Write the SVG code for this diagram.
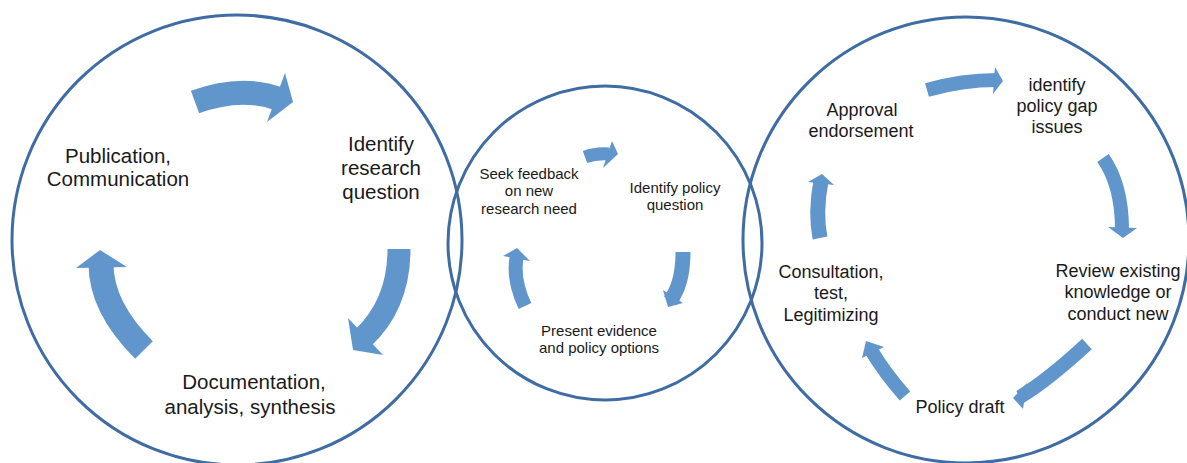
<svg xmlns="http://www.w3.org/2000/svg" width="1187" height="463" viewBox="0 0 1187 463">
<style>
  .ring { fill: none; stroke: #3f6ca3; stroke-width: 3; }
  .body { fill: none; stroke: #6196cc; }
  .head { fill: #6196cc; stroke: none; }
  text { font-family: "Liberation Sans", Arial, sans-serif; fill: #1a1a1a; text-anchor: middle; }
  .t20 { font-size: 20.5px; }
  .t15 { font-size: 15px; }
  .t17 { font-size: 18px; }
</style>
<rect width="1187" height="463" fill="#ffffff"/>

<g id="cycle-research">
  <circle class="ring" cx="237" cy="240" r="225"/>
</g>
<g id="cycle-bridge">
  <circle class="ring" cx="605" cy="243" r="157"/>
</g>
<g id="cycle-policy">
  <circle class="ring" cx="966" cy="240" r="223"/>
</g>

<g id="connectors">
  <!-- left circle -->
  <path class="body" stroke-width="24" d="M195,102 Q241.5,85 279,99"/>
  <polygon class="head" points="285,73 293,102 267,122"/>
  <path class="body" stroke-width="23" d="M399,249 Q399,304 363,338"/>
  <polygon class="head" points="348,318 353,350 383,355"/>
  <path class="body" stroke-width="25" d="M144,350 Q101,307 101,264"/>
  <polygon class="head" points="76,268 100,250 127,267"/>
  <!-- middle circle -->
  <path class="body" stroke-width="13" d="M585,157 Q596,153 609,154"/>
  <polygon class="head" points="612,141 618,154 603,168"/>
  <path class="body" stroke-width="15" d="M683,252 Q683,284 670,301"/>
  <polygon class="head" points="663,290 668,307 683,303"/>
  <path class="body" stroke-width="14" d="M525,306 Q512,279 517,255"/>
  <polygon class="head" points="503,256 517,248 530,261"/>
  <!-- right circle -->
  <path class="body" stroke-width="14" d="M927,90 Q962,80 997,80"/>
  <polygon class="head" points="995,67 1003,81 993,94"/>
  <path class="body" stroke-width="14" d="M1103,158 Q1122,185 1122,230"/>
  <polygon class="head" points="1108,227 1123,238 1137,228"/>
  <path class="body" stroke-width="14" d="M1087,344 Q1048,380 1020,397"/>
  <polygon class="head" points="1027,383 1013,398 1023,409"/>
  <path class="body" stroke-width="14" d="M905,396 Q884,372 871,350"/>
  <polygon class="head" points="862,358 866,341 884,347"/>
  <path class="body" stroke-width="15" d="M820,238 Q815,212 821,181"/>
  <polygon class="head" points="808,182 822,174 834,185"/>
</g>

<g id="node-publication">
  <text class="t20" x="118" y="163">Publication,</text>
  <text class="t20" x="118" y="186">Communication</text>
</g>
<g id="node-identify-research">
  <text class="t20" x="381" y="151">Identify</text>
  <text class="t20" x="381" y="175">research</text>
  <text class="t20" x="381" y="199">question</text>
</g>
<g id="node-documentation">
  <text class="t20" x="254" y="389">Documentation,</text>
  <text class="t20" x="250" y="414">analysis, synthesis</text>
</g>

<g id="node-seek-feedback">
  <text class="t15" x="529" y="179">Seek feedback</text>
  <text class="t15" x="529" y="196">on new</text>
  <text class="t15" x="529" y="214">research need</text>
</g>
<g id="node-identify-policy">
  <text class="t15" x="675" y="193">Identify policy</text>
  <text class="t15" x="675" y="210">question</text>
</g>
<g id="node-present-evidence">
  <text class="t15" x="599" y="336">Present evidence</text>
  <text class="t15" x="599" y="353">and policy options</text>
</g>

<g id="node-approval">
  <text class="t17" x="862" y="116">Approval</text>
  <text class="t17" x="861" y="137">endorsement</text>
</g>
<g id="node-policy-gap">
  <text class="t17" x="1057" y="91">identify</text>
  <text class="t17" x="1057" y="112">policy gap</text>
  <text class="t17" x="1057" y="133">issues</text>
</g>
<g id="node-review">
  <text class="t17" x="1118" y="277">Review existing</text>
  <text class="t17" x="1118" y="298">knowledge or</text>
  <text class="t17" x="1118" y="320">conduct new</text>
</g>
<g id="node-policy-draft">
  <text class="t17" x="960" y="413">Policy draft</text>
</g>
<g id="node-consultation">
  <text class="t17" x="831" y="278">Consultation,</text>
  <text class="t17" x="831" y="299">test,</text>
  <text class="t17" x="831" y="321">Legitimizing</text>
</g>
</svg>
